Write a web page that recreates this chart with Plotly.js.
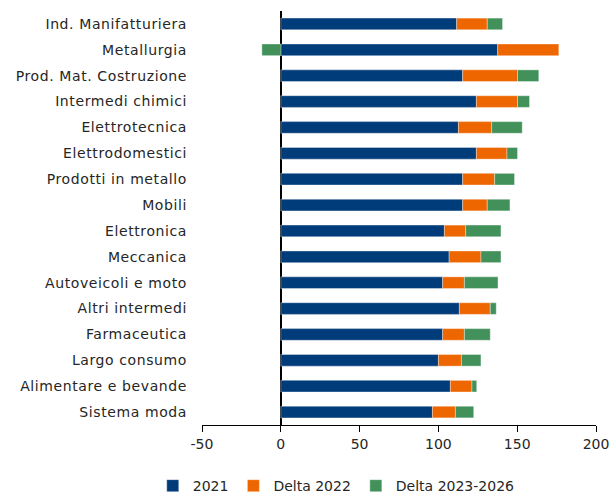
<!DOCTYPE html>
<html>
<head>
<meta charset="utf-8">
<script src="https://cdn.plot.ly/plotly-3.0.1.min.js"></script>
<style>html,body{margin:0;padding:0;background:#fff;}#chart{width:611px;height:496px;}
#chart .ytick text{letter-spacing:0.6px;}</style>
</head>
<body>
<div id="chart"></div>
<script>
const categories = ["Ind. Manifatturiera","Metallurgia","Prod. Mat. Costruzione","Intermedi chimici","Elettrotecnica","Elettrodomestici","Prodotti in metallo","Mobili","Elettronica","Meccanica","Autoveicoli e moto","Altri intermedi","Farmaceutica","Largo consumo","Alimentare e bevande","Sistema moda"];
const v2021 = [111.6,137.6,115.4,124.1,112.7,124.1,115.4,115.4,103.8,106.8,102.7,113.3,102.7,100.0,107.6,96.2];
const delta2022 = [19.4,38.8,34.8,26.1,21.1,19.4,20.3,15.6,13.5,20.2,13.8,19.6,13.8,14.6,13.7,14.6];
const delta2326 = [9.7,-12.0,13.5,7.6,19.4,6.7,12.6,14.4,22.4,12.7,21.3,3.8,16.4,12.4,3.0,11.6];
const seriesNames = ["2021","Delta 2022","Delta 2023-2026"];
const colors = ["#003B7A","#EE6600","#43915A"];
const xTickVals = [-50,0,50,100,150,200];
const xTickText = ["-50","0","50","100","150","200"];

const vals = [v2021, delta2022, delta2326];
const traces = vals.map((v,i)=>({
  type:"bar", orientation:"h", name:seriesNames[i], y:categories, x:v,
  marker:{color:colors[i], line:{color:"rgba(255,255,255,0.6)", width:0.6}},
  width:0.45
}));

const layout = {
  width:611, height:496,
  margin:{l:202, r:15, t:11, b:71, autoexpand:false},
  barmode:"relative",
  paper_bgcolor:"#fff", plot_bgcolor:"#fff",
  font:{family:"'DejaVu Sans', sans-serif", size:14, color:"#262626"},
  xaxis:{range:[-50,200], tickvals:xTickVals, ticktext:xTickText, showgrid:false,
    zeroline:true, zerolinecolor:"#000", zerolinewidth:1.5,
    showline:true, linecolor:"#000", linewidth:1, ticks:"outside", ticklen:6, tickcolor:"#000",
    fixedrange:true, tickfont:{size:14}, automargin:false},
  yaxis:{autorange:"reversed", showgrid:false, showline:false, ticks:"", ticklabelstandoff:14,
    tickfont:{size:14}, fixedrange:true, automargin:false},
  legend:{orientation:"h", xref:"container", yref:"container", x:0.25, xanchor:"left", y:0.02, yanchor:"middle",
    font:{size:14}, traceorder:"normal", itemwidth:30},
  showlegend:true
};
Plotly.newPlot("chart", traces, layout, {displayModeBar:false, staticPlot:true});
</script>
</body>
</html>
